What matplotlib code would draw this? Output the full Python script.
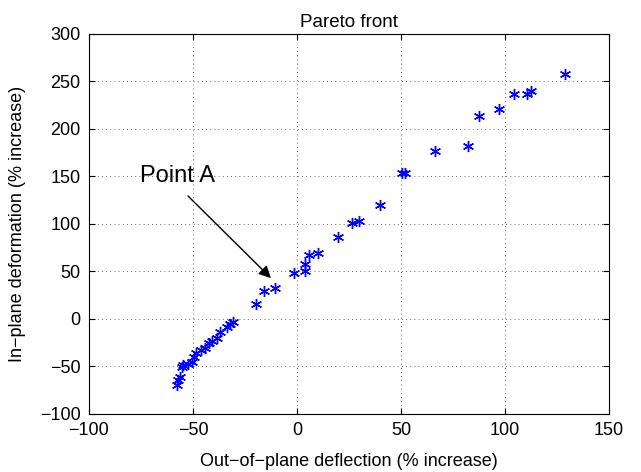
import numpy as np
import matplotlib
matplotlib.use("Agg")
from matplotlib import pyplot as plt

plt.rcParams['font.family'] = ['Liberation Sans', 'DejaVu Sans']

# Pareto front points (out-of-plane, in-plane), % increase
out_plane = [-57.9, -57.1, -56.3, -55.5, -54.7, -52.3, -50.7, -49.5, -48.6,
             -46.3, -44.2, -42.2, -41.0, -38.3, -37.0, -33.8, -32.2, -30.6,
             -19.7, -15.7, -10.6, -1.4, 3.7, 4.0, 5.6, 10.3, 19.5, 26.3,
             29.8, 39.9, 50.3, 51.9, 66.2, 82.4, 87.6, 97.1, 104.2, 110.4,
             112.3, 128.8]
in_plane = [-69.5, -64.2, -60.7, -50.2, -48.4, -47.7, -44.9, -40.3, -36.0,
            -32.6, -30.9, -24.9, -22.8, -19.6, -14.0, -8.0, -5.3, -2.8,
            15.8, 29.8, 32.6, 48.4, 50.2, 57.9, 67.0, 69.8, 86.0, 100.7,
            103.5, 120.0, 154.0, 154.0, 177.2, 182.0, 213.7, 221.0, 236.5,
            237.2, 240.0, 257.9]

fig = plt.figure(figsize=(6.41, 4.72), dpi=100)
ax = fig.add_axes([0.1388, 0.1229, 0.8112, 0.8051])

# matlab style asterisk
ax.plot(out_plane, in_plane, linestyle='none', marker=(6, 2, 0),
        color='blue', markersize=8, markeredgewidth=1.0)

ax.set_xlim(-100, 150)
ax.set_ylim(-100, 300)
ax.set_xticks(np.arange(-100, 151, 50))
ax.set_yticks(np.arange(-100, 301, 50))
ax.grid(True, linestyle=(0, (1, 4)), color='black', linewidth=0.6, alpha=0.8)
ax.tick_params(direction='in', labelsize=13, top=True, right=True, length=4,
               pad=6)

ax.set_title("Pareto front", fontsize=13.5, pad=5)
ax.set_xlabel("Out\u2212of\u2212plane deflection (% increase)", fontsize=13,
              labelpad=10)
ax.set_ylabel("In\u2212plane deformation (% increase)", fontsize=13,
              labelpad=10)

ax.text(-57.2, 144, "Point A", fontsize=17, ha='center', va='baseline')
ax.annotate("", xy=(-12.5, 43), xytext=(-52.4, 129.5),
            arrowprops=dict(arrowstyle='-|>', color='black', lw=1,
                            mutation_scale=18, shrinkA=0, shrinkB=0))

fig.savefig("out.png", dpi=100)
